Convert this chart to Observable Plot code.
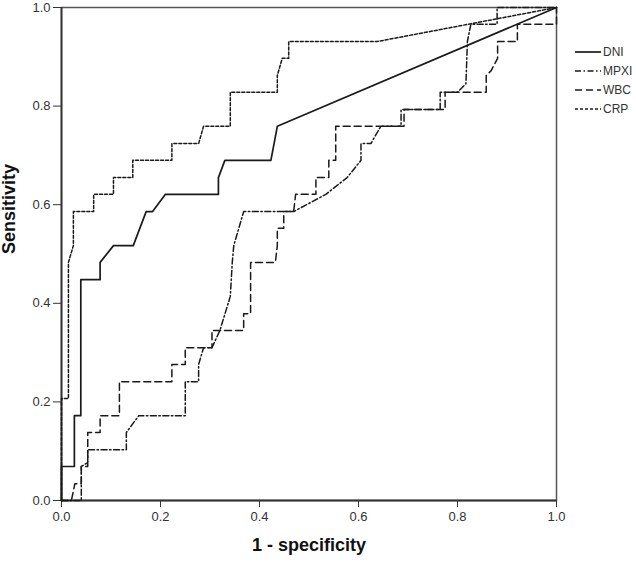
<!DOCTYPE html>
<html><head><meta charset="utf-8">
<script src="https://cdn.jsdelivr.net/npm/d3@7"></script>
<script src="https://cdn.jsdelivr.net/npm/@observablehq/plot@0.6"></script>
<style>
html,body{margin:0;padding:0;background:#fff;}
#wrap{position:relative;width:636px;height:562px;font-family:Arial,"Liberation Sans",sans-serif;}
#wrap svg{display:block;}
#legend{position:absolute;left:0;top:0;}
</style></head><body><div id="wrap"></div>
<script>
// Series names (legend order)
const seriesNames = ["DNI", "MPXI", "WBC", "CRP"];
const xTicks = [0, 0.2, 0.4, 0.6, 0.8, 1.0];
const yTicks = [0, 0.2, 0.4, 0.6, 0.8, 1.0];
const xLabel = "1 - specificity";
const yLabel = "Sensitivity";

// ROC curves: [1 - specificity, sensitivity]
const DNI = [[0,0],[0,0.069],[0.026,0.069],[0.026,0.172],[0.039,0.172],[0.039,0.448],[0.078,0.448],[0.078,0.483],
  [0.105,0.517],[0.145,0.517],[0.171,0.586],[0.184,0.586],[0.21,0.621],[0.317,0.621],[0.317,0.655],[0.330,0.690],
  [0.423,0.690],[0.436,0.759],[1,1]];
const MPXI = [[0,0],[0.04,0],[0.04,0.069],[0.053,0.077],[0.053,0.103],[0.131,0.103],[0.131,0.138],[0.156,0.172],
  [0.25,0.172],[0.25,0.241],[0.277,0.241],[0.277,0.276],[0.287,0.310],[0.304,0.310],[0.32,0.345],[0.341,0.414],
  [0.345,0.483],[0.348,0.517],[0.368,0.586],[0.469,0.586],[0.534,0.621],[0.577,0.655],[0.605,0.690],[0.605,0.724],
  [0.625,0.724],[0.645,0.759],[0.686,0.759],[0.686,0.793],[0.765,0.793],[0.765,0.828],[0.80,0.828],[0.817,0.845],
  [0.82,0.931],[0.827,0.966],[0.88,0.966],[0.88,1],[1,1]];
const WBC = [[0,0],[0.02,0],[0.027,0.034],[0.04,0.034],[0.04,0.069],[0.053,0.069],[0.053,0.138],[0.078,0.138],
  [0.078,0.172],[0.117,0.172],[0.117,0.241],[0.223,0.241],[0.223,0.276],[0.25,0.276],[0.25,0.310],[0.304,0.310],
  [0.304,0.345],[0.368,0.345],[0.368,0.379],[0.382,0.379],[0.382,0.483],[0.432,0.483],[0.436,0.517],[0.436,0.552],
  [0.449,0.552],[0.449,0.586],[0.469,0.586],[0.473,0.621],[0.514,0.621],[0.514,0.655],[0.540,0.655],[0.540,0.690],
  [0.554,0.690],[0.554,0.759],[0.692,0.759],[0.692,0.793],[0.775,0.793],[0.775,0.828],[0.858,0.828],[0.858,0.862],
  [0.868,0.872],[0.881,0.897],[0.881,0.931],[0.921,0.931],[0.921,0.966],[1,0.966],[1,1]];
const CRP = [[0,0],[0,0.207],[0.014,0.207],[0.014,0.483],[0.024,0.517],[0.024,0.586],[0.065,0.586],[0.065,0.621],
  [0.105,0.621],[0.105,0.655],[0.144,0.655],[0.144,0.690],[0.223,0.690],[0.223,0.724],[0.277,0.724],[0.287,0.759],
  [0.341,0.759],[0.341,0.828],[0.436,0.828],[0.436,0.862],[0.446,0.897],[0.459,0.897],[0.459,0.931],[0.638,0.931],[1,1]];

const curves = {DNI, MPXI, WBC, CRP};
const dashes = {DNI: undefined, MPXI: "6,2.5,1.5,2.5", WBC: "7,4", CRP: "3,2"};
const widths = {DNI: 1.7, MPXI: 1.5, WBC: 1.5, CRP: 1.5};

const lineMarks = seriesNames.map(name => {
  const opts = {x: d => d[0], y: d => d[1], stroke: "#1a1a1a", strokeWidth: widths[name], curve: "linear"};
  if (dashes[name]) opts.strokeDasharray = dashes[name];
  return Plot.line(curves[name], opts);
});

const fmt = d3.format(".1f");
const chart = Plot.plot({
  width: 636, height: 562,
  marginLeft: 61, marginRight: 80, marginTop: 7, marginBottom: 62,
  x: {domain: [0, 1]},
  y: {domain: [0, 1]},
  style: {fontFamily: "Arial, 'Liberation Sans', sans-serif", color: "#333", background: "#fff", overflow: "visible"},
  marks: [
    Plot.frame({stroke: "#555", strokeWidth: 1.5}),
    Plot.axisX(xTicks, {tickFormat: fmt, tickSize: 7, tickPadding: 4, fontSize: 13, label: null}),
    Plot.axisY(yTicks, {tickFormat: fmt, tickSize: 8, tickPadding: 3, fontSize: 13, label: null}),
    Plot.ruleY([0], {stroke: "#333", strokeWidth: 1.8}),
    Plot.ruleX([0], {stroke: "#333", strokeWidth: 1.8}),
    ...lineMarks,
    Plot.text([xLabel], {text: d => d, frameAnchor: "bottom", dy: 50, fontSize: 18, fontWeight: "bold", fill: "#111"}),
    Plot.text([yLabel], {text: d => d, frameAnchor: "left", dx: -52, rotate: -90, fontSize: 18, fontWeight: "bold", fill: "#111"})
  ]
});
const wrap = document.getElementById("wrap");
wrap.appendChild(chart);

// Legend overlay (right side)
const leg = d3.select(wrap).append("svg").attr("id", "legend").attr("width", 636).attr("height", 562);
const rowY = d3.scalePoint().domain(seriesNames).range([52, 109]);
seriesNames.forEach(name => {
  const g = leg.append("g").attr("transform", `translate(0,${rowY(name)})`);
  const l = g.append("line").attr("x1", 575).attr("x2", 601).attr("y1", 0).attr("y2", 0)
    .attr("stroke", "#1a1a1a").attr("stroke-width", widths[name]);
  if (dashes[name]) l.attr("stroke-dasharray", dashes[name]);
  g.append("text").attr("x", 603).attr("y", 0).attr("dy", "0.35em")
    .attr("font-size", 12).attr("fill", "#333").attr("font-family", "Arial, 'Liberation Sans', sans-serif").text(name);
});
</script></body></html>
